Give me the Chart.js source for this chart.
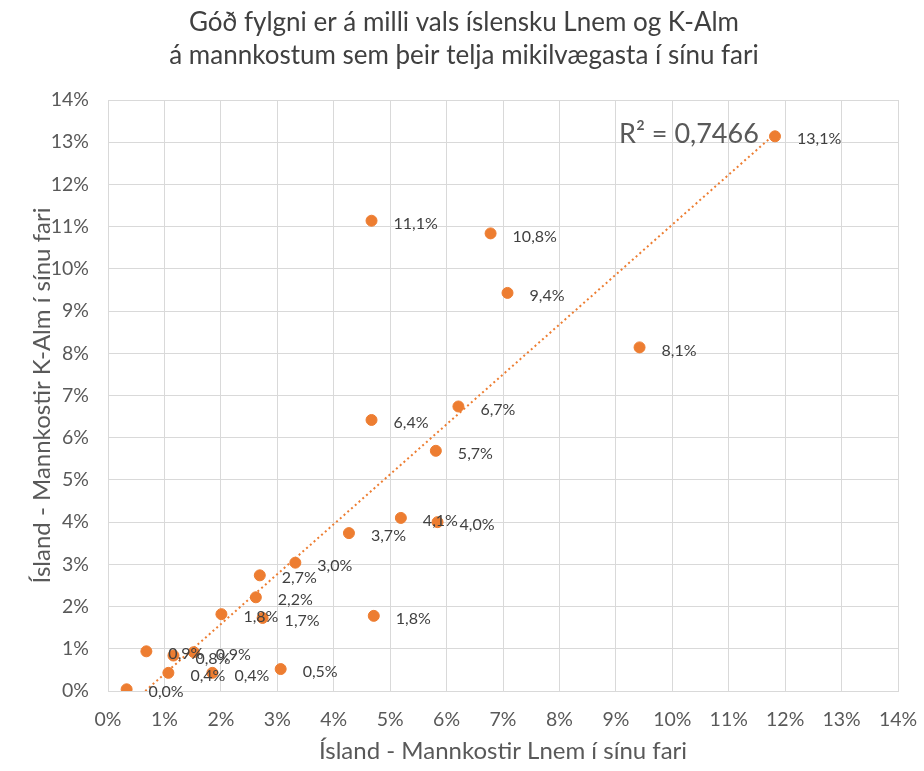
<!DOCTYPE html>
<html lang="is">
<head>
<meta charset="utf-8">
<title>Lnem og K-Alm</title>
<script src="https://cdn.jsdelivr.net/npm/chart.js@4"></script>
<style>
  html, body { margin: 0; padding: 0; background: #fff; }
  #wrap { width: 924px; height: 771px; }
</style>
</head>
<body>
<div id="wrap"><canvas id="scatterChart" width="924" height="771"></canvas></div>
<script>
/* ===============================
   DATA
=============================== */
const titleLines = [
  "Góð fylgni er á milli vals íslensku Lnem og K-Alm",
  "á mannkostum sem þeir telja mikilvægasta í sínu fari"
];
const xTitle = "Ísland - Mannkostir Lnem í sínu fari";
const yTitle = "Ísland - Mannkostir K-Alm í sínu fari";

// Lnem (%)
const lnemValues = [11.82, 4.67, 6.78, 7.08, 9.42, 6.21, 4.67, 5.81, 5.19, 5.84, 4.27, 3.32,
  2.69, 2.62, 2.01, 2.74, 4.71, 0.68, 1.16, 1.52, 1.07, 1.85, 3.06, 0.33];
// K-Alm (%)
const kalmValues = [13.14, 11.14, 10.84, 9.43, 8.14, 6.74, 6.42, 5.69, 4.10, 4.00, 3.74, 3.04,
  2.74, 2.22, 1.82, 1.73, 1.78, 0.94, 0.84, 0.92, 0.43, 0.43, 0.52, 0.04];

// linuleg leitnilina (lesin af mynd)
const trendX = [0.66, 11.82];
const trendY = [0, 13.2];
const rSquaredText = "R² = 0,7466";

const axisTicks = [0, 1, 2, 3, 4, 5, 6, 7, 8, 9, 10, 11, 12, 13, 14];

/* ===============================
   PLUGIN: titill, gildi, R2
=============================== */
const FONT = "Lato, 'Open Sans', sans-serif";

const extrasPlugin = {
  id: "extras",
  afterDatasetsDraw(chart) {
    const ctx = chart.ctx;
    const meta = chart.getDatasetMeta(0);
    ctx.save();
    ctx.fillStyle = "#404040";
    ctx.font = "16px " + FONT;
    ctx.textAlign = "left";
    ctx.textBaseline = "middle";
    meta.data.forEach((pt, i) => {
      const txt = kalmValues[i].toFixed(1).replace(".", ",") + "%";
      ctx.fillText(txt, pt.x + 22, pt.y + 3);
    });

    // R2
    ctx.fillStyle = "#595959";
    ctx.font = "27px " + FONT;
    ctx.textAlign = "left";
    ctx.fillText(rSquaredText, 619, 134);

    // titill
    ctx.fillStyle = "#404040";
    ctx.font = "26px " + FONT;
    ctx.textAlign = "center";
    ctx.fillText(titleLines[0], 464, 23);
    ctx.fillText(titleLines[1], 464, 56);
    ctx.restore();
  }
};

/* ===============================
   GRAF
=============================== */
const ctx = document.getElementById("scatterChart").getContext("2d");
const orange = "#ED7D31";

new Chart(ctx, {
  type: "scatter",
  data: {
    datasets: [
      {
        label: "Mannkostir",
        data: lnemValues.map((x, i) => ({ x: x, y: kalmValues[i] })),
        backgroundColor: orange,
        borderColor: orange,
        pointRadius: 5.5,
        pointHoverRadius: 5.5,
        order: 1
      },
      {
        label: "Leitni",
        type: "line",
        data: trendX.map((x, i) => ({ x: x, y: trendY[i] })),
        borderColor: orange,
        borderWidth: 2,
        borderDash: [2, 3],
        pointRadius: 0,
        fill: false,
        order: 2
      }
    ]
  },
  options: {
    responsive: false,
    animation: false,
    layout: { padding: { top: 100, right: 26, bottom: 0, left: 0 } },
    plugins: {
      legend: { display: false },
      title: { display: false },
      tooltip: { enabled: false }
    },
    scales: {
      x: {
        type: "linear",
        min: 0,
        max: 14,
        afterBuildTicks: s => { s.ticks = axisTicks.map(v => ({ value: v })); },
        afterFit: s => { s.height = 80; s.paddingLeft = 0; s.paddingRight = 0; },
        grid: { color: "#d9d9d9", drawTicks: false },
        border: { color: "#d9d9d9" },
        ticks: {
          padding: 17,
          color: "#595959",
          font: { family: FONT, size: 19.5 },
          callback: v => v + "%"
        },
        title: {
          display: true,
          text: xTitle,
          color: "#595959",
          font: { family: FONT, size: 24 },
          padding: { top: 0, bottom: 5 }
        }
      },
      y: {
        type: "linear",
        min: 0,
        max: 14,
        afterBuildTicks: s => { s.ticks = axisTicks.map(v => ({ value: v })); },
        afterFit: s => { s.width = 108; s.paddingTop = 0; s.paddingBottom = 0; },
        grid: { color: "#d9d9d9", drawTicks: false },
        border: { color: "#d9d9d9" },
        ticks: {
          padding: 19,
          color: "#595959",
          font: { family: FONT, size: 19.5 },
          callback: v => v + "%"
        },
        title: {
          display: true,
          text: yTitle,
          color: "#595959",
          font: { family: FONT, size: 24 },
          padding: { top: 28, bottom: 0 }
        }
      }
    }
  },
  plugins: [extrasPlugin]
});
</script>
</body>
</html>
